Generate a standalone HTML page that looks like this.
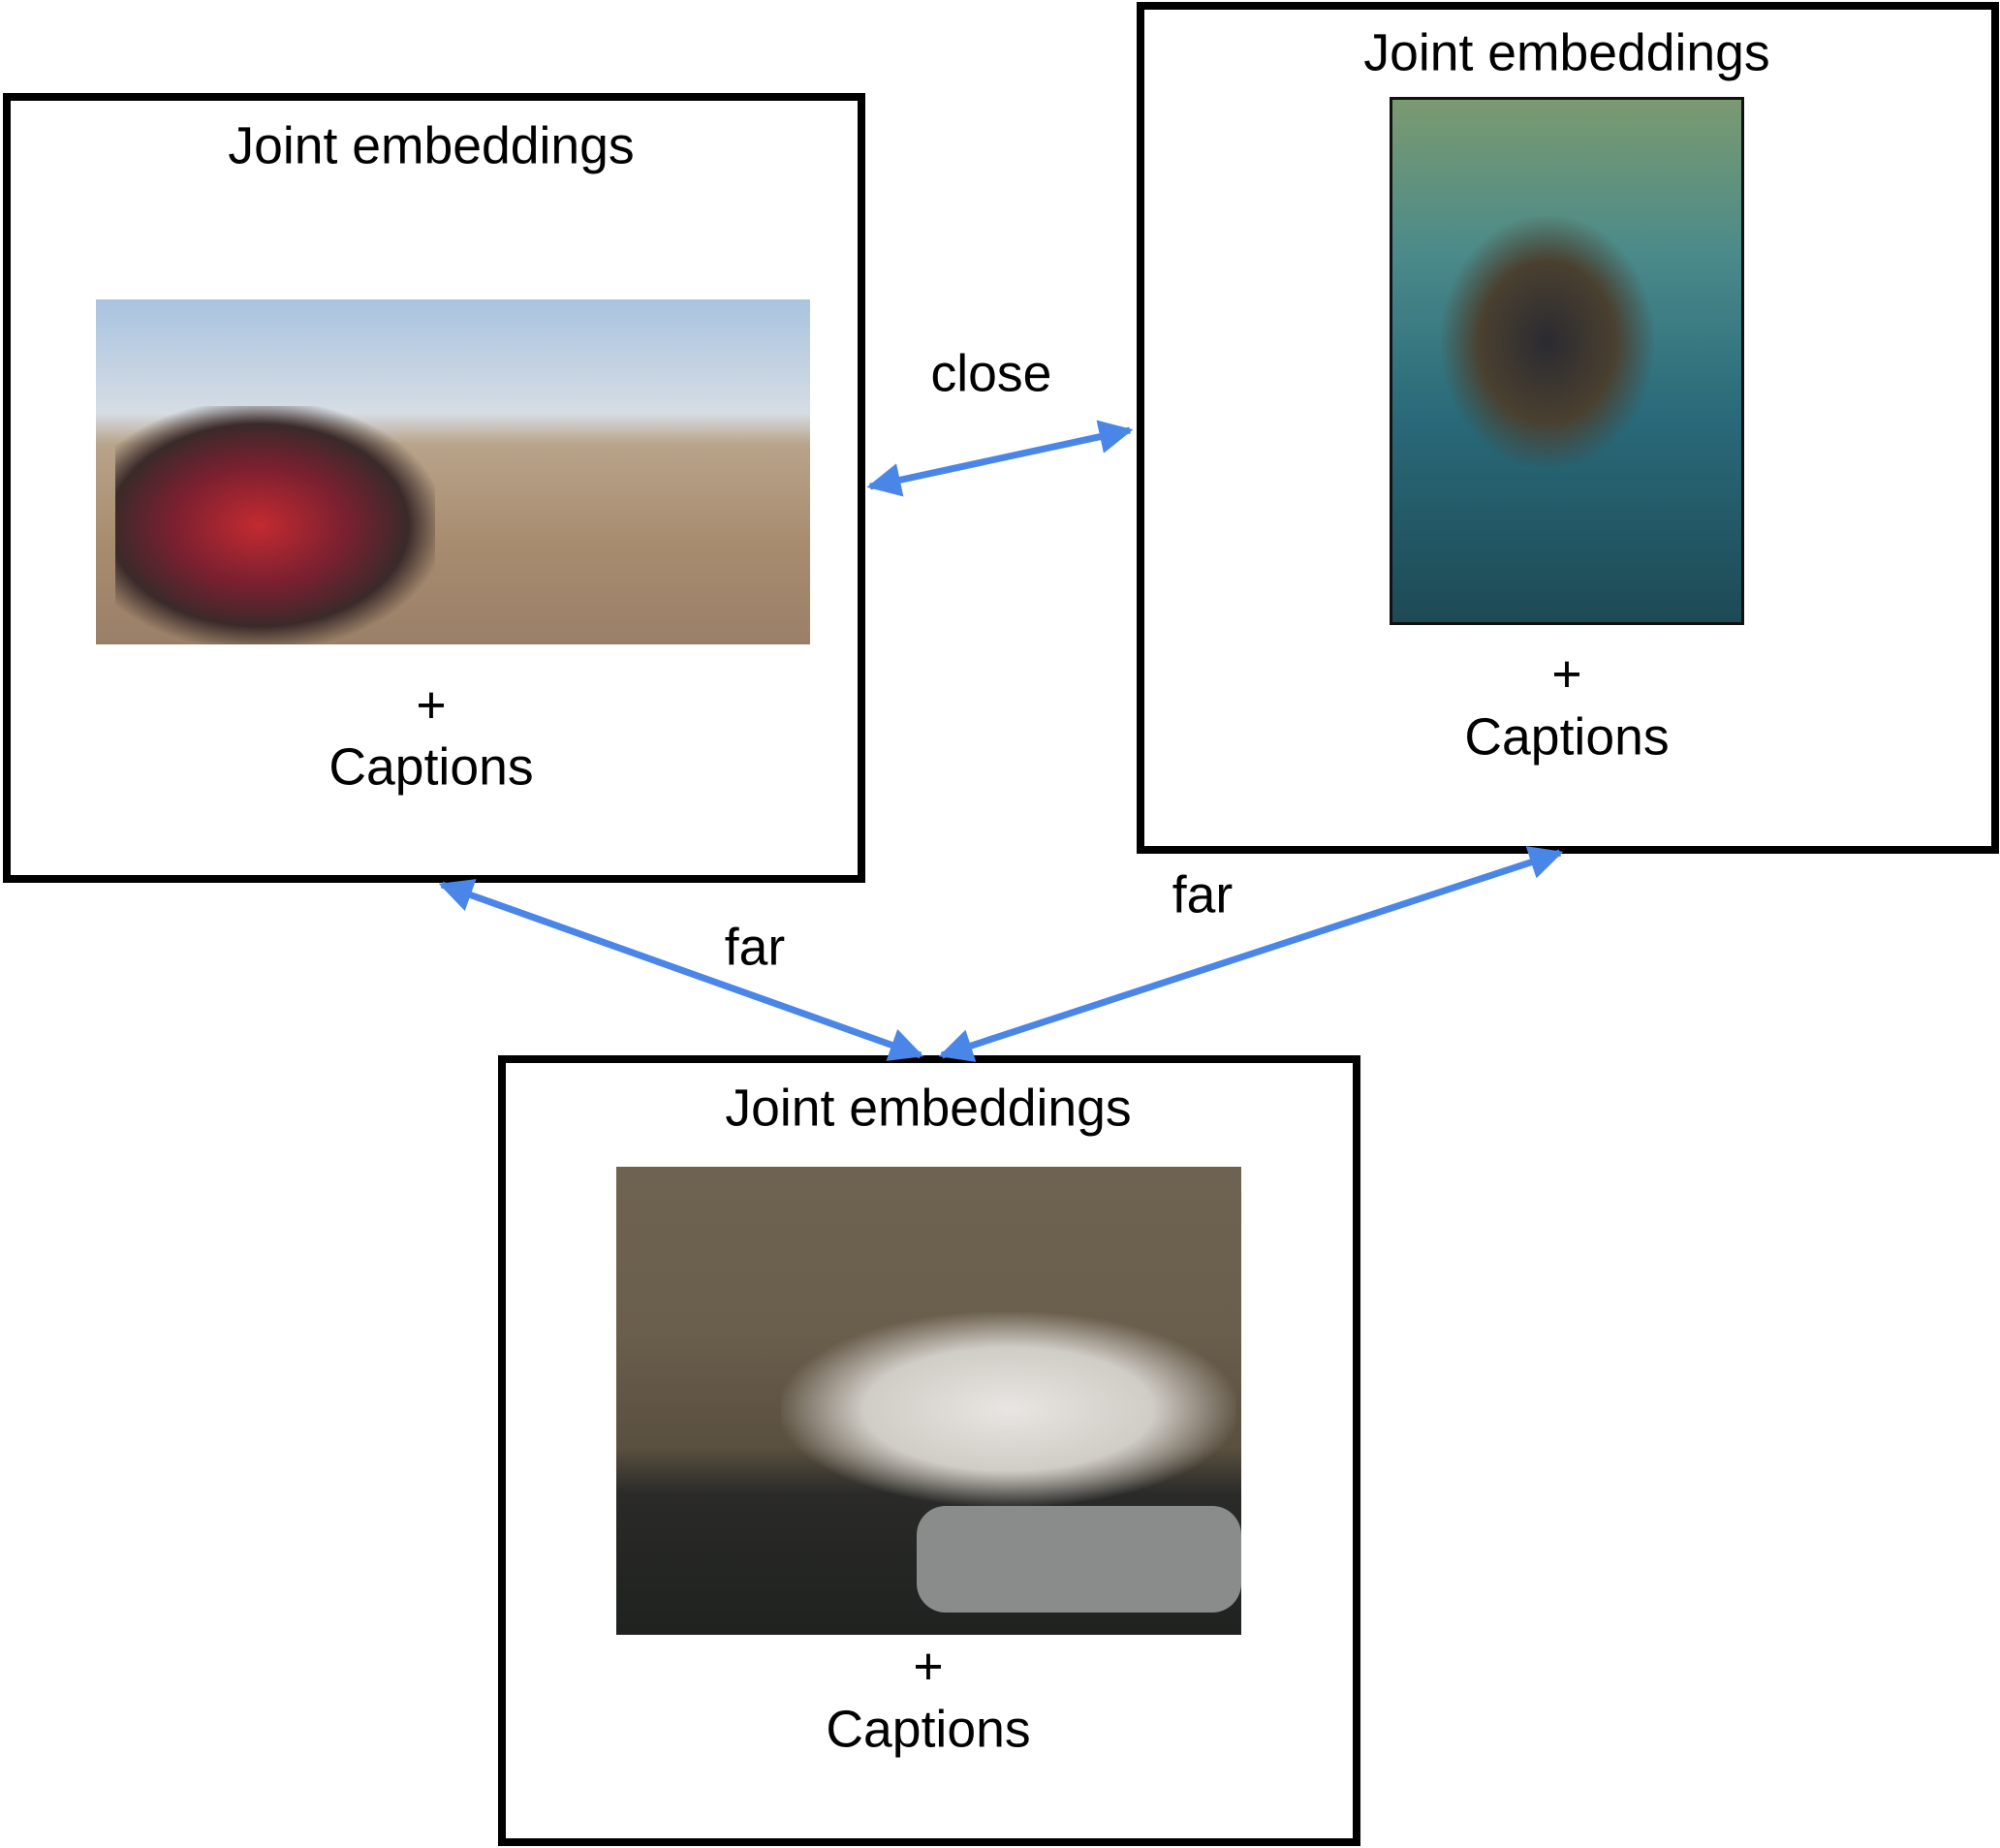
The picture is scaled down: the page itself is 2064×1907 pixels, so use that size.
<!DOCTYPE html>
<html><head><meta charset="utf-8"><style>
body{margin:0;background:#fff;}
#c{position:relative;width:2064px;height:1907px;overflow:hidden;font-family:"Liberation Sans",Arial,sans-serif;}
.box{position:absolute;border:8px solid #000;box-sizing:border-box;}
.t{position:absolute;transform:translate(-50%,-50%);font-size:53.5px;white-space:nowrap;color:#000;}
.img{position:absolute;}
</style></head><body><div id="c">
<div class="box" style="left:3px;top:96px;width:890px;height:815px"></div>
<div class="box" style="left:1173px;top:2px;width:890px;height:879px"></div>
<div class="box" style="left:514px;top:1089px;width:890px;height:816px"></div>

<div class="img" style="left:99px;top:309px;width:737px;height:356px;background:linear-gradient(#a9c3e0 0%,#d6dde4 33%,#b8a48a 42%,#a88c70 70%,#9a8068 100%)">
 <div style="position:absolute;left:20px;top:110px;width:330px;height:246px;background:radial-gradient(ellipse at 45% 50%,#c42a30 0%,#7a2030 35%,#3a2a2a 60%,transparent 75%)"></div>
</div>
<div class="img" style="left:1434px;top:100px;width:366px;height:545px;background:linear-gradient(#7a9a70 0%,#4a8a8a 30%,#2a6a7a 60%,#1d4a55 100%);border:3px solid #111;box-sizing:border-box">
 <div style="position:absolute;left:50px;top:120px;width:220px;height:260px;background:radial-gradient(ellipse,#2a2a30 0%,#4a4030 45%,transparent 72%)"></div>
</div>
<div class="img" style="left:636px;top:1204px;width:645px;height:483px;background:linear-gradient(#6e6250 0%,#6a5e4c 35%,#5a5040 60%,#2a2a28 70%,#1f2220 100%)">
 <div style="position:absolute;left:170px;top:150px;width:470px;height:200px;background:radial-gradient(ellipse,#e8e6e2 0%,#d0ccc6 45%,transparent 72%)"></div>
 <div style="position:absolute;left:310px;top:350px;width:335px;height:110px;border-radius:30px;background:#8a8c8c"></div>
</div>

<div class="t" style="left:445px;top:151px">Joint embeddings</div>
<div class="t" style="left:445px;top:728px">+</div>
<div class="t" style="left:445px;top:792px">Captions</div>
<div class="t" style="left:1617px;top:55px">Joint embeddings</div>
<div class="t" style="left:1617px;top:696px">+</div>
<div class="t" style="left:1617px;top:761px">Captions</div>
<div class="t" style="left:958px;top:1144px">Joint embeddings</div>
<div class="t" style="left:958px;top:1720px">+</div>
<div class="t" style="left:958px;top:1785px">Captions</div>
<div class="t" style="left:1023px;top:386px">close</div>
<div class="t" style="left:779px;top:978px">far</div>
<div class="t" style="left:1241px;top:924px">far</div>

<svg width="2064" height="1907" style="position:absolute;left:0;top:0">
<defs><marker id="a" viewBox="0 0 10 10" refX="9" refY="5" markerWidth="5" markerHeight="5" orient="auto-start-reverse"><path d="M0,0L10,5L0,10z" fill="#4a86e8"/></marker></defs>
<g stroke="#4a86e8" stroke-width="7" fill="none">
<line x1="898" y1="502" x2="1166" y2="444" marker-start="url(#a)" marker-end="url(#a)"/>
<line x1="456" y1="913" x2="950" y2="1089" marker-start="url(#a)" marker-end="url(#a)"/>
<line x1="1610" y1="880" x2="972" y2="1089" marker-start="url(#a)" marker-end="url(#a)"/>
</g></svg>
</div></body></html>
